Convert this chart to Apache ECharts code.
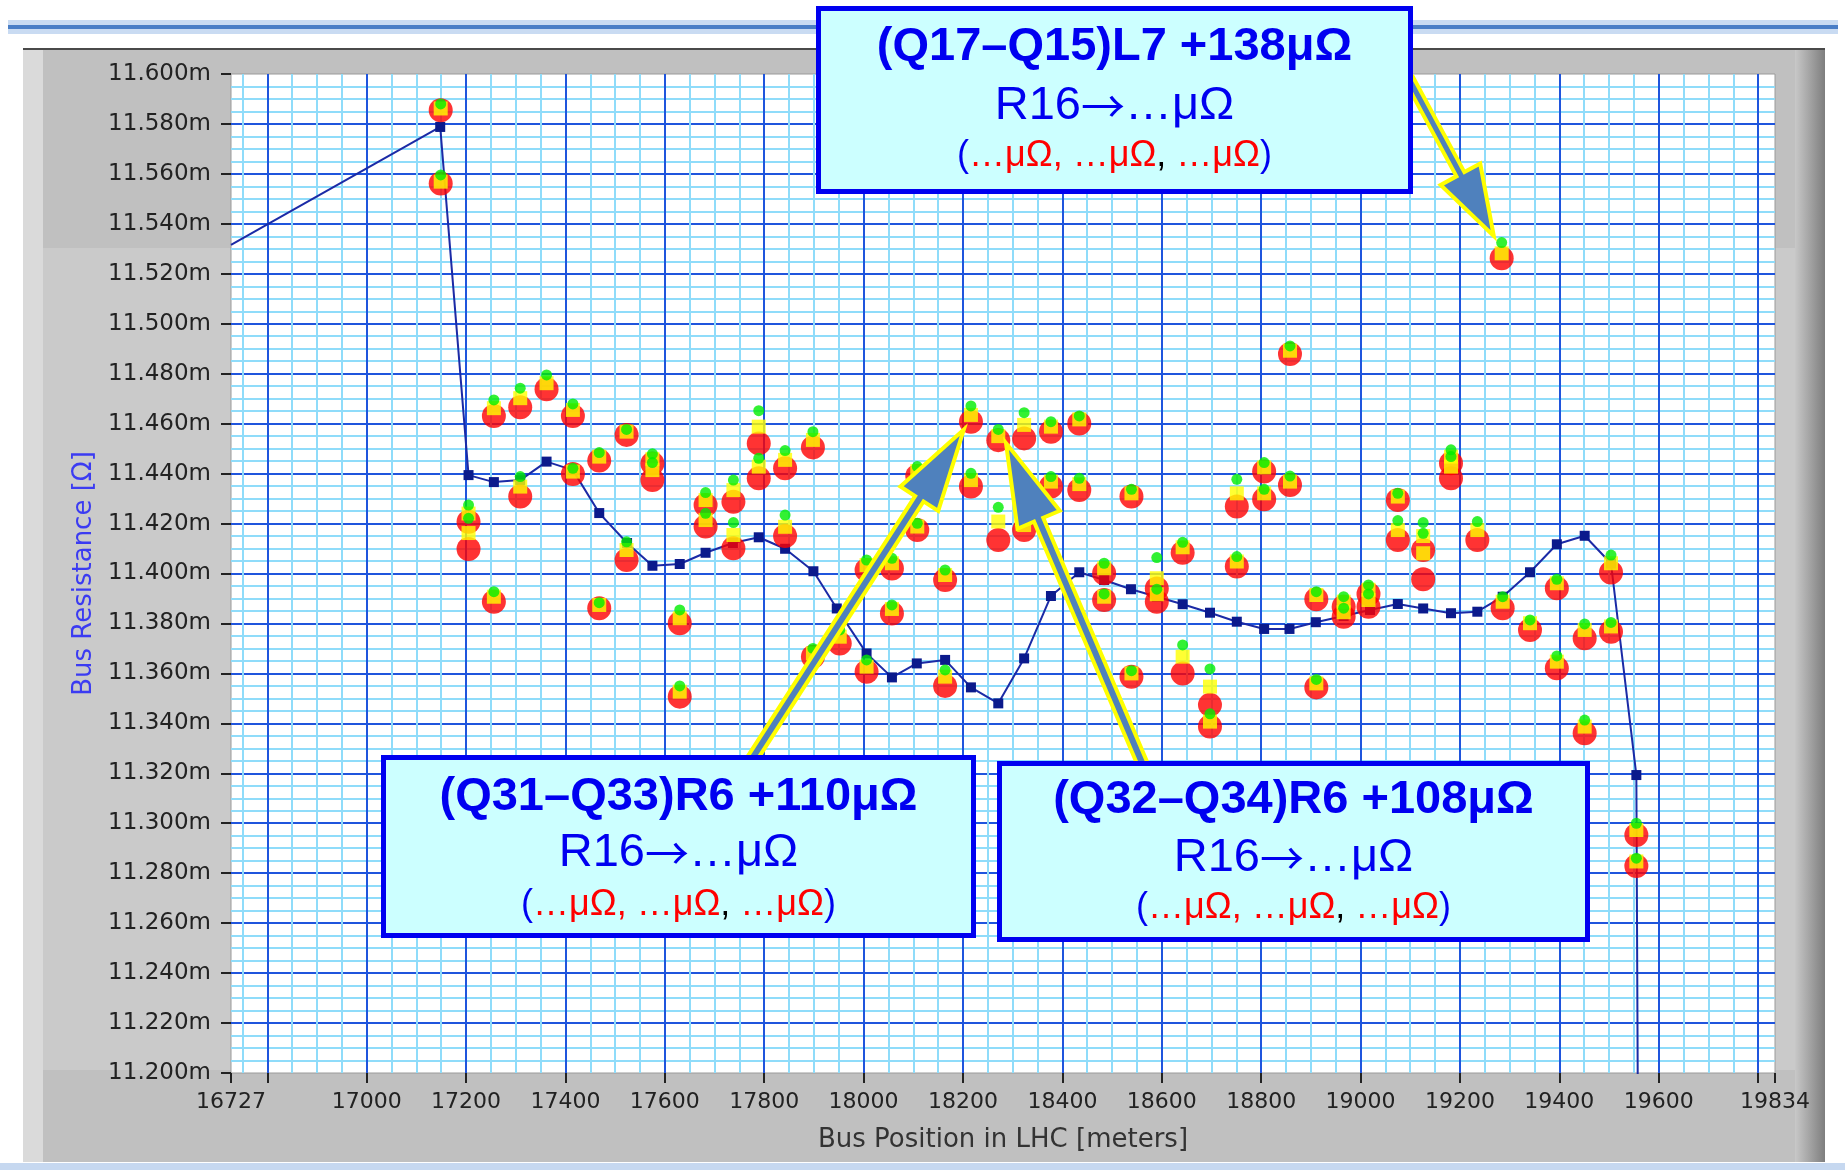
<!DOCTYPE html>
<html>
<head>
<meta charset="utf-8">
<title>Bus Resistance</title>
<script src="https://cdn.jsdelivr.net/npm/echarts@6/dist/echarts.min.js"></script>
<style>
  html, body { margin: 0; padding: 0; background: #fff; }
  #chart { width: 1845px; height: 1170px; }
</style>
</head>
<body>
<div id="chart"></div>
<script>
// bus resistance (mOhm) along the LHC position (m)
// connected trace (dark squares)
var lineX = [16727, 17148, 17205, 17256, 17309, 17362, 17415, 17468, 17524, 17575, 17630, 17682, 17737, 17789, 17842, 17899,
  17946, 18006, 18057, 18107, 18164, 18216, 18271, 18323, 18377, 18434, 18484, 18538, 18590, 18642, 18697, 18751,
  18806, 18857, 18910, 18966, 19019, 19075, 19126, 19182, 19235, 19286, 19341, 19395, 19451, 19504, 19555, 19560]
var lineY = [11.5316, 11.5788, 11.4394, 11.4366, 11.4374, 11.4448, 11.4414, 11.4242, 11.4122, 11.4031, 11.4038, 11.4083, 11.4122, 11.4145, 11.4099, 11.4009,
  11.3860, 11.3680, 11.3584, 11.3640, 11.3654, 11.3544, 11.3480, 11.3660, 11.3910, 11.4005, 11.3974, 11.3937, 11.3907, 11.3877, 11.3843, 11.3807,
  11.3778, 11.3778, 11.3805, 11.3830, 11.3854, 11.3878, 11.3860, 11.3841, 11.3847, 11.3907, 11.4005, 11.4117, 11.4151, 11.4040, 11.3193, 11.1000]

// measured points: red circle, yellow square, green dot at each position
var markX = [17149, 17149, 17205, 17205, 17256, 17256, 17309, 17309, 17362, 17415, 17415, 17468, 17468, 17523, 17523, 17575, 17575,
  17630, 17630, 17682, 17682, 17738, 17738, 17789, 17789, 17842, 17842, 17898, 17898, 17952, 18006, 18006, 18057, 18057,
  18108, 18108, 18164, 18164, 18216, 18216, 18271, 18271, 18323, 18323, 18377, 18377, 18434, 18434, 18484, 18484,
  18539, 18539, 18590, 18590, 18642, 18642, 18697, 18697, 18751, 18751, 18806, 18806, 18858, 18858, 18911, 18911,
  18966, 18966, 19016, 19016, 19075, 19075, 19126, 19126, 19182, 19182, 19235, 19284, 19286, 19341, 19395, 19395,
  19451, 19451, 19504, 19504, 19555, 19555]
var greenY = [11.5880, 11.5596, 11.4274, 11.4221, 11.4695, 11.3927, 11.4742, 11.4388, 11.4795, 11.4679, 11.4421, 11.4484, 11.3883, 11.4577, 11.4127, 11.4479, 11.4444,
  11.3854, 11.3550, 11.4324, 11.4241, 11.4374, 11.4204, 11.4652, 11.4461, 11.4492, 11.4234, 11.4568, 11.3700, 11.3774, 11.4054, 11.3654, 11.4061, 11.3874,
  11.4428, 11.4201, 11.4014, 11.3614, 11.4671, 11.4401, 11.4577, 11.4265, 11.4644, 11.4214, 11.4608, 11.4388, 11.4631, 11.4381, 11.4041, 11.3918,
  11.4337, 11.3611, 11.4064, 11.3937, 11.4125, 11.3714, 11.3618, 11.3438, 11.4068, 11.4377, 11.4444, 11.4337, 11.4911, 11.4390, 11.3927, 11.3576,
  11.3907, 11.3861, 11.3954, 11.3918, 11.4321, 11.4212, 11.4204, 11.4161, 11.4495, 11.4468, 11.4208, 11.5325, 11.3907, 11.3814, 11.3977, 11.3670,
  11.3798, 11.3413, 11.4074, 11.3804, 11.3000, 11.2860]
var yellowY = [11.5862, 11.5569, 11.4240, 11.4162, 11.4662, 11.3907, 11.4702, 11.4348, 11.4762, 11.4655, 11.4408, 11.4468, 11.3874, 11.4568, 11.4094, 11.4458, 11.4414,
  11.3821, 11.3527, 11.4294, 11.4214, 11.4334, 11.4154, 11.4588, 11.4428, 11.4455, 11.4187, 11.4535, 11.3680, 11.3747, 11.4034, 11.3627, 11.4041, 11.3858,
  11.4410, 11.4188, 11.3994, 11.3587, 11.4635, 11.4374, 11.4550, 11.4208, 11.4595, 11.4194, 11.4588, 11.4368, 11.4617, 11.4358, 11.4021, 11.3907,
  11.4321, 11.3600, 11.3981, 11.3917, 11.4105, 11.3667, 11.3547, 11.3407, 11.4048, 11.4321, 11.4425, 11.4321, 11.4892, 11.4368, 11.3914, 11.3560,
  11.3887, 11.3845, 11.3935, 11.3894, 11.4308, 11.4174, 11.4150, 11.4081, 11.4468, 11.4428, 11.4174, 11.5282, 11.3887, 11.3801, 11.3961, 11.3647,
  11.3774, 11.3387, 11.4041, 11.3788, 11.2973, 11.2847]
var redY = [11.5855, 11.5562, 11.4207, 11.4098, 11.4631, 11.3887, 11.4666, 11.4308, 11.4738, 11.4631, 11.4398, 11.4452, 11.3861, 11.4555, 11.4054, 11.4440, 11.4374,
  11.3801, 11.3507, 11.4274, 11.4188, 11.4287, 11.4101, 11.4521, 11.4381, 11.4421, 11.4150, 11.4505, 11.3667, 11.3720, 11.4014, 11.3607, 11.4020, 11.3840,
  11.4390, 11.4174, 11.3974, 11.3550, 11.4608, 11.4348, 11.4534, 11.4134, 11.4541, 11.4174, 11.4568, 11.4348, 11.4601, 11.4334, 11.4001, 11.3894,
  11.4308, 11.3587, 11.3940, 11.3887, 11.4083, 11.3600, 11.3474, 11.3387, 11.4028, 11.4268, 11.4408, 11.4297, 11.4879, 11.4354, 11.3897, 11.3544,
  11.3867, 11.3827, 11.3918, 11.3867, 11.4294, 11.4134, 11.4094, 11.3977, 11.4441, 11.4381, 11.4134, 11.5262, 11.3861, 11.3774, 11.3941, 11.3621,
  11.3741, 11.3360, 11.4004, 11.3767, 11.2953, 11.2829]

var xHidden = [16800, 19800] // ticks drawn, labels covered by the end values

var BLUE = '#0000f0'
var FONT_BOX = '"Liberation Sans", Arial, sans-serif'

function pairs (xs, ys) {
  return xs.map(function (x, i) { return [x, ys[i]] })
}

// thick annotation arrow, outline is yellow
function arrow (x0, y0, x1, y1, shaftW, headW, headL) {
  var dx = x1 - x0
  var dy = y1 - y0
  var len = Math.sqrt(dx * dx + dy * dy)
  var ux = dx / len
  var uy = dy / len
  var nx = -uy
  var ny = ux
  var sw = (shaftW - 4) / 2
  var hw = (headW - 4) / 2
  var inset = 2 / Math.sin(Math.atan2(headW / 2, headL))
  var tx = x1 - ux * inset
  var ty = y1 - uy * inset
  var bx = x1 - ux * (headL - 2)
  var by = y1 - uy * (headL - 2)
  return {
    type: 'polygon',
    z: 50,
    shape: {
      points: [
        [x0 + nx * sw, y0 + ny * sw], [bx + nx * sw, by + ny * sw], [bx + nx * hw, by + ny * hw], [tx, ty],
        [bx - nx * hw, by - ny * hw], [bx - nx * sw, by - ny * sw], [x0 - nx * sw, y0 - ny * sw]
      ]
    },
    style: { fill: '#4f81bd', stroke: '#ffff00', lineWidth: 4, lineJoin: 'miter' }
  }
}

function box (x0, y0, x1, y1, cx, ys, title) {
  return [
    {
      type: 'rect',
      z: 60,
      shape: { x: x0 + 2.5, y: y0 + 2.5, width: x1 - x0 - 5, height: y1 - y0 - 5 },
      style: { fill: '#ccffff', stroke: BLUE, lineWidth: 5 }
    },
    {
      type: 'text', z: 61, x: cx, y: ys[0],
      style: { text: title, font: 'bold 47px ' + FONT_BOX, fill: BLUE, align: 'center', verticalAlign: 'middle' }
    },
    {
      type: 'text', z: 61, x: cx, y: ys[1],
      style: {
        text: '{t|R16}{a|→}{t|…μΩ}',
        font: '47px ' + FONT_BOX,
        align: 'center',
        verticalAlign: 'middle',
        rich: {
          t: { fill: BLUE, font: '47px ' + FONT_BOX },
          a: { fill: BLUE, font: '44px "Noto Sans CJK SC"' }
        }
      }
    },
    {
      type: 'text', z: 61, x: cx, y: ys[2],
      style: {
        text: '{b|(}{r|…μΩ, …μΩ}{k|,}{r| …μΩ}{b|)}',
        font: '36px ' + FONT_BOX,
        align: 'center',
        verticalAlign: 'middle',
        rich: {
          b: { fill: BLUE, font: '36px ' + FONT_BOX },
          r: { fill: '#ff0000', font: '36px ' + FONT_BOX },
          k: { fill: '#000000', font: '36px ' + FONT_BOX }
        }
      }
    }
  ]
}

var panel = [
  // slide header line
  { type: 'rect', z: -20, shape: { x: 8, y: 20, width: 1830, height: 14 }, style: { fill: '#c9dbf2' } },
  { type: 'rect', z: -19, shape: { x: 8, y: 25, width: 1830, height: 4 }, style: { fill: '#4a7ec6' } },
  // grey graph frame
  { type: 'rect', z: -18, shape: { x: 23, y: 49, width: 1802, height: 1113 }, style: { fill: '#c0c0c0' } },
  { type: 'rect', z: -17, shape: { x: 23, y: 248, width: 1802, height: 822 }, style: { fill: '#cacaca' } },
  { type: 'rect', z: -16, shape: { x: 23, y: 49, width: 20, height: 1113 }, style: { fill: '#dadada' } },
  {
    type: 'rect', z: -16, shape: { x: 1795, y: 49, width: 30, height: 1113 },
    style: { fill: new echarts.graphic.LinearGradient(0, 0, 1, 0, [{ offset: 0, color: '#c8c8c8' }, { offset: 1, color: '#7e7e7e' }]) }
  },
  { type: 'rect', z: -15, shape: { x: 23, y: 48, width: 1802, height: 2 }, style: { fill: '#4a4a4a' } },
  { type: 'rect', z: -15, shape: { x: 0, y: 1163, width: 1845, height: 7 }, style: { fill: '#c6d8f0' } }
]

var notes = [
  arrow(1409, 79, 1497, 242, 13, 49, 79),
  arrow(748, 765, 968, 423, 14, 49, 92),
  arrow(1143, 765, 1003, 436, 14, 50, 93)
]
  .concat(box(816, 6, 1413, 194, 1114.5, [47, 106, 156], '(Q17–Q15)L7 +138μΩ'))
  .concat(box(381, 755, 976, 938, 678.5, [797, 853, 905], '(Q31–Q33)R6 +110μΩ'))
  .concat(box(997, 761, 1590, 942, 1293.5, [800, 858, 908], '(Q32–Q34)R6 +108μΩ'))

var traceData = pairs(lineX, lineY).map(function (p, i) {
  // first and last points only carry the line in from / out of the frame
  if (i === 0 || i === lineX.length - 1) return { value: p, symbol: 'none' }
  return p
})

var myChart = echarts.init(document.getElementById('chart'))
myChart.setOption({
  animation: false,
  backgroundColor: '#ffffff',
  graphic: panel.concat(notes),
  grid: {
    left: 231,
    right: 70,
    top: 74,
    bottom: 97,
    show: true,
    backgroundColor: '#ffffff',
    borderColor: '#9a9a9a',
    borderWidth: 1
  },
  xAxis: {
    type: 'value',
    min: 16727,
    max: 19834,
    splitNumber: 15,
    minInterval: 200,
    maxInterval: 200,
    name: 'Bus Position in LHC [meters]',
    nameLocation: 'middle',
    nameGap: 54,
    nameTextStyle: { fontFamily: 'DejaVu Sans', fontSize: 26, color: '#333333' },
    axisLine: { show: false },
    axisTick: { show: true, length: 10, lineStyle: { color: '#222222', width: 2 } },
    axisLabel: {
      margin: 18,
      fontFamily: 'DejaVu Sans',
      fontSize: 22,
      color: '#222222',
      showMinLabel: true,
      showMaxLabel: true,
      formatter: function (v) { return xHidden.indexOf(v) >= 0 ? '' : String(v) }
    },
    splitLine: { show: true, showMinLine: false, showMaxLine: false, lineStyle: { color: '#1f55dd', width: 2 } },
    minorTick: { show: false, splitNumber: 4 },
    minorSplitLine: { show: true, lineStyle: { color: '#8fdcfa', width: 2 } }
  },
  yAxis: {
    type: 'value',
    min: 11.2,
    max: 11.6,
    interval: 0.02,
    name: 'Bus Resistance [Ω]',
    nameLocation: 'middle',
    nameRotate: 90,
    nameGap: 133,
    nameTextStyle: { fontFamily: 'DejaVu Sans', fontSize: 26, color: '#3b3bf2' },
    axisLine: { show: false },
    axisTick: { show: true, length: 10, lineStyle: { color: '#222222', width: 2 } },
    axisLabel: {
      margin: 20,
      fontFamily: 'DejaVu Sans',
      fontSize: 23,
      color: '#222222',
      formatter: function (v) { return v.toFixed(3) + 'm' }
    },
    splitLine: { show: true, showMinLine: false, showMaxLine: false, lineStyle: { color: '#1f55dd', width: 2 } },
    minorTick: { show: false, splitNumber: 4 },
    minorSplitLine: { show: true, lineStyle: { color: '#8fdcfa', width: 2 } }
  },
  series: [
    {
      name: 'trace',
      type: 'line',
      data: traceData,
      symbol: 'rect',
      symbolSize: 10,
      itemStyle: { color: '#0b1a8c' },
      lineStyle: { color: '#1b2aa6', width: 2 },
      z: 3
    },
    {
      name: 'red',
      type: 'scatter',
      data: pairs(markX, redY),
      symbol: 'circle',
      symbolSize: 24,
      itemStyle: { color: '#ff0000' },
      z: 4
    },
    {
      name: 'yellow',
      type: 'scatter',
      data: pairs(markX, yellowY),
      symbol: 'rect',
      symbolSize: 14,
      itemStyle: { color: '#ffff00' },
      z: 5
    },
    {
      name: 'green',
      type: 'scatter',
      data: pairs(markX, greenY),
      symbol: 'circle',
      symbolSize: 11,
      itemStyle: { color: '#00ee00' },
      z: 6
    }
  ]
})
</script>
</body>
</html>
